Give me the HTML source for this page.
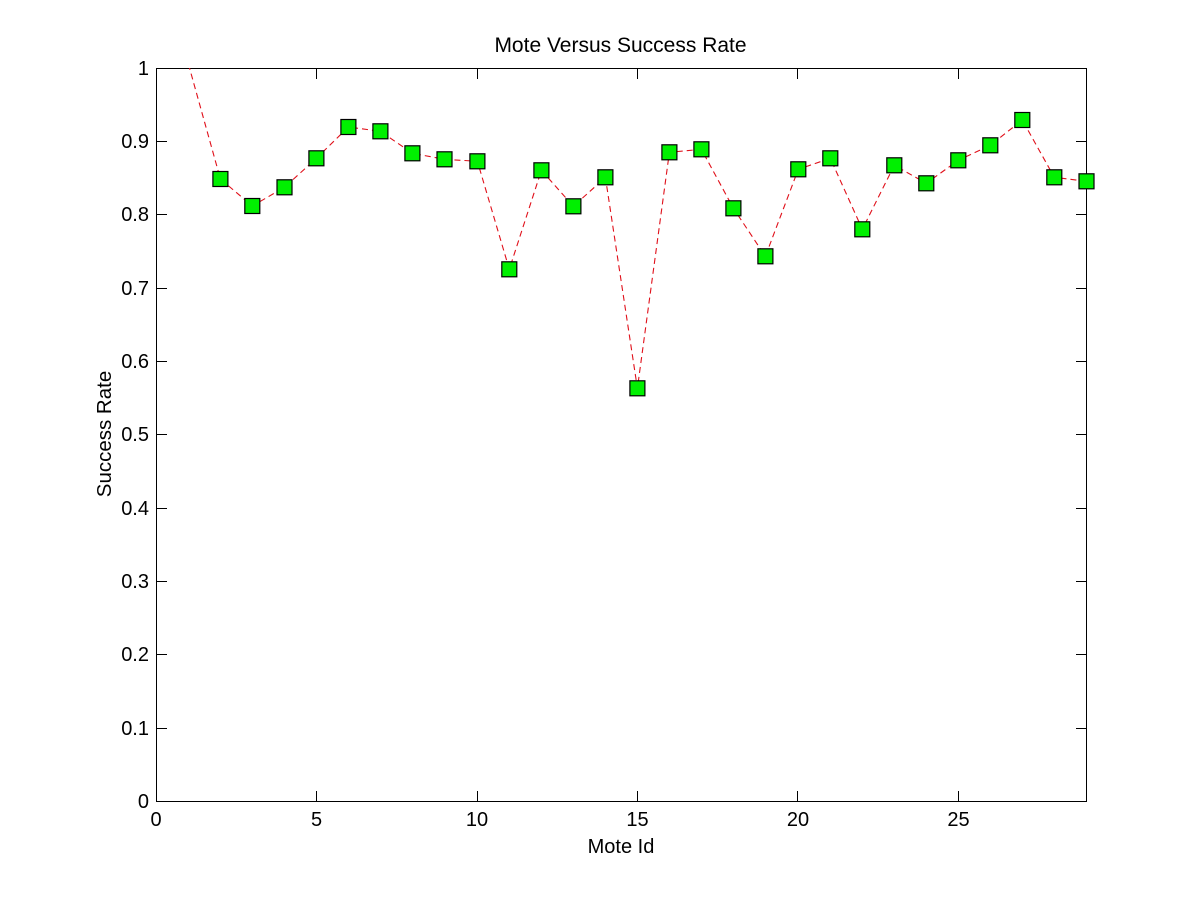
<!DOCTYPE html>
<html>
<head>
<meta charset="utf-8">
<style>
html,body{margin:0;padding:0;background:#fff;}
svg{display:block;}
text{font-family:"Liberation Sans",Arial,sans-serif;fill:#000;}
</style>
</head>
<body>
<svg width="1201" height="901" viewBox="0 0 1201 901" xmlns="http://www.w3.org/2000/svg">
<rect x="0" y="0" width="1201" height="901" fill="#fff"/>
<defs>
<clipPath id="ax"><rect x="156" y="68" width="932" height="734"/></clipPath>
</defs>

<!-- axes box -->
<rect x="156.5" y="68.5" width="930" height="733" fill="none" stroke="#000" stroke-width="1"/>

<!-- x ticks -->
<g stroke="#000" stroke-width="1">
<line x1="316.5" y1="801" x2="316.5" y2="791"/><line x1="316.5" y1="69" x2="316.5" y2="79"/>
<line x1="477.5" y1="801" x2="477.5" y2="791"/><line x1="477.5" y1="69" x2="477.5" y2="79"/>
<line x1="637.5" y1="801" x2="637.5" y2="791"/><line x1="637.5" y1="69" x2="637.5" y2="79"/>
<line x1="797.5" y1="801" x2="797.5" y2="791"/><line x1="797.5" y1="69" x2="797.5" y2="79"/>
<line x1="958.5" y1="801" x2="958.5" y2="791"/><line x1="958.5" y1="69" x2="958.5" y2="79"/>
</g>
<!-- y ticks -->
<g stroke="#000" stroke-width="1">
<line x1="157" y1="728.5" x2="167" y2="728.5"/><line x1="1086" y1="728.5" x2="1076" y2="728.5"/>
<line x1="157" y1="654.5" x2="167" y2="654.5"/><line x1="1086" y1="654.5" x2="1076" y2="654.5"/>
<line x1="157" y1="581.5" x2="167" y2="581.5"/><line x1="1086" y1="581.5" x2="1076" y2="581.5"/>
<line x1="157" y1="508.5" x2="167" y2="508.5"/><line x1="1086" y1="508.5" x2="1076" y2="508.5"/>
<line x1="157" y1="434.5" x2="167" y2="434.5"/><line x1="1086" y1="434.5" x2="1076" y2="434.5"/>
<line x1="157" y1="361.5" x2="167" y2="361.5"/><line x1="1086" y1="361.5" x2="1076" y2="361.5"/>
<line x1="157" y1="288.5" x2="167" y2="288.5"/><line x1="1086" y1="288.5" x2="1076" y2="288.5"/>
<line x1="157" y1="214.5" x2="167" y2="214.5"/><line x1="1086" y1="214.5" x2="1076" y2="214.5"/>
<line x1="157" y1="141.5" x2="167" y2="141.5"/><line x1="1086" y1="141.5" x2="1076" y2="141.5"/>
</g>

<!-- x tick labels -->
<g font-size="20" text-anchor="middle">
<text x="156" y="826">0</text>
<text x="316.5" y="826">5</text>
<text x="477" y="826">10</text>
<text x="637.5" y="826">15</text>
<text x="798" y="826">20</text>
<text x="958.5" y="826">25</text>
</g>
<!-- y tick labels -->
<g font-size="20" text-anchor="end">
<text x="149" y="808">0</text>
<text x="149" y="735">0.1</text>
<text x="149" y="661">0.2</text>
<text x="149" y="588">0.3</text>
<text x="149" y="515">0.4</text>
<text x="149" y="441">0.5</text>
<text x="149" y="368">0.6</text>
<text x="149" y="295">0.7</text>
<text x="149" y="221">0.8</text>
<text x="149" y="148">0.9</text>
<text x="149" y="75">1</text>
</g>

<!-- title and axis labels -->
<text x="620.5" y="52" font-size="21" text-anchor="middle">Mote Versus Success Rate</text>
<text x="621" y="853" font-size="20" text-anchor="middle">Mote Id</text>
<text x="0" y="0" font-size="20.5" text-anchor="middle" transform="translate(111,434) rotate(-90)">Success Rate</text>

<!-- series line -->
<g clip-path="url(#ax)">
<polyline fill="none" stroke="#e0101a" stroke-width="1.1" stroke-dasharray="6,4"
points="188.4,64 220.4,179 252.3,206 284.5,187.3 316.4,158.3 348.4,127 380.4,131.3 412.4,153.3 444.5,159.3 477.4,161.3 509.3,269.3 541.4,170.3 573.4,206.3 605.4,177.3 637.4,388.3 669.4,152.3 701.4,149.3 733.4,208.3 765.4,256.3 798.3,169.3 830.3,158.3 862.3,229.3 894.3,165.3 926.3,183.3 958.3,160.3 990.3,145.3 1022.3,120 1054.3,177.3 1086.5,181.3"/>
</g>

<!-- markers -->
<g fill="#00f000" stroke="#000" stroke-width="1.2">
<rect x="212.9" y="171.5" width="15" height="15"/>
<rect x="244.8" y="198.5" width="15" height="15"/>
<rect x="277" y="179.8" width="15" height="15"/>
<rect x="308.9" y="150.8" width="15" height="15"/>
<rect x="340.9" y="119.5" width="15" height="15"/>
<rect x="372.9" y="123.8" width="15" height="15"/>
<rect x="404.9" y="145.8" width="15" height="15"/>
<rect x="437" y="151.8" width="15" height="15"/>
<rect x="469.9" y="153.8" width="15" height="15"/>
<rect x="501.8" y="261.8" width="15" height="15"/>
<rect x="533.9" y="162.8" width="15" height="15"/>
<rect x="565.9" y="198.8" width="15" height="15"/>
<rect x="597.9" y="169.8" width="15" height="15"/>
<rect x="629.9" y="380.8" width="15" height="15"/>
<rect x="661.9" y="144.8" width="15" height="15"/>
<rect x="693.9" y="141.8" width="15" height="15"/>
<rect x="725.9" y="200.8" width="15" height="15"/>
<rect x="757.9" y="248.8" width="15" height="15"/>
<rect x="790.8" y="161.8" width="15" height="15"/>
<rect x="822.8" y="150.8" width="15" height="15"/>
<rect x="854.8" y="221.8" width="15" height="15"/>
<rect x="886.8" y="157.8" width="15" height="15"/>
<rect x="918.8" y="175.8" width="15" height="15"/>
<rect x="950.8" y="152.8" width="15" height="15"/>
<rect x="982.8" y="137.8" width="15" height="15"/>
<rect x="1014.8" y="112.5" width="15" height="15"/>
<rect x="1046.8" y="169.8" width="15" height="15"/>
<rect x="1079" y="173.8" width="15" height="15"/>
</g>
</svg>
</body>
</html>
